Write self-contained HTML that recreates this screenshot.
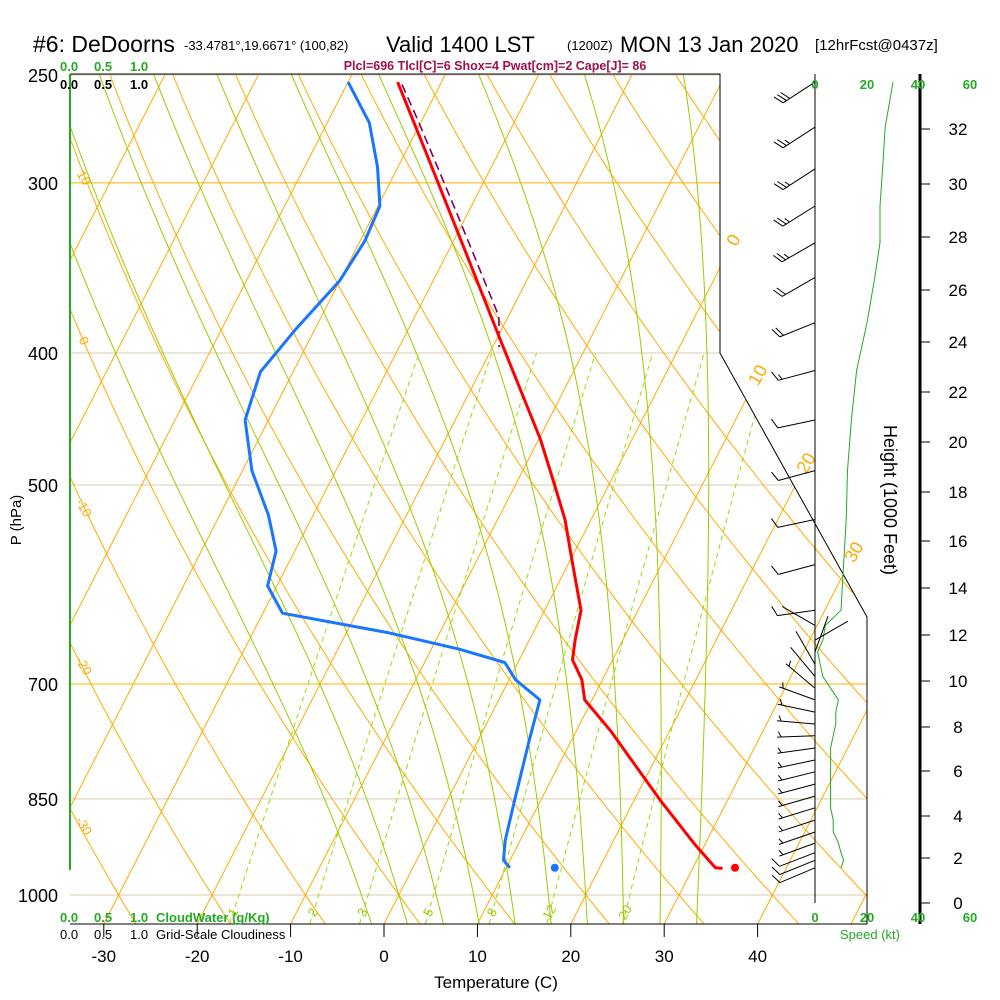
<!DOCTYPE html>
<html><head><meta charset="utf-8"><style>
html,body{margin:0;padding:0;background:#fff}
svg{display:block;font-family:"Liberation Sans",sans-serif}
</style></head><body>
<svg id="c" width="1000" height="1000" viewBox="0 0 1000 1000" xmlns="http://www.w3.org/2000/svg">
<defs><clipPath id="plotclip"><polygon points="70,74 720,74 720,353 867,617 867,924 70,924"/></clipPath></defs>
<g>
<text x="33" y="52" font-size="23">#6: DeDoorns</text>
<text x="184" y="50" font-size="13">-33.4781°,19.6671° (100,82)</text>
<text x="386" y="52" font-size="22">Valid 1400 LST</text>
<text x="567" y="50" font-size="13">(1200Z)</text>
<text x="620" y="52" font-size="22">MON 13 Jan 2020</text>
<text x="815" y="50" font-size="15">[12hrFcst@0437z]</text>
</g>
<text x="495" y="70" font-size="12.5" font-weight="bold" fill="#a0104a" text-anchor="middle">Plcl=696 Tlcl[C]=6 Shox=4 Pwat[cm]=2 Cape[J]= 86</text>
<g id="grid" clip-path="url(#plotclip)"></g>
<g id="series"></g>
<g id="axes"></g>
<g id="wind"></g>
</svg>
<script>
// ---- data ----
const tempP = [253,284,336,391,463,500,530,568,618,650,672,695,719,757,852,919,955,956];
const tempT = [-44.7,-38.0,-28.3,-19.6,-9.8,-5.8,-2.8,0.2,3.9,4.9,5.7,7.8,9.2,13.6,22.8,29.0,32.4,33.2];
const dewP = [253,271,292,312,331,354,385,413,448,488,526,559,593,621,642,660,675,695,719,771,852,912,943,955];
const dewT = [-50.0,-45.5,-42.2,-39.8,-39.5,-40.0,-42.1,-43.5,-42.5,-39.0,-34.8,-32.0,-31.0,-27.9,-15.4,-7.0,-1.4,0.7,4.4,5.5,7.2,8.4,9.3,10.4];
const parcelP = [254,270,314,376,396];
const parcelT = [-44.1,-40.4,-31.5,-21.0,-19.3];
const sfcT = 34.5, sfcTd = 15.2, sfcP = 955;
const windP = [253,273,293,312,332,352,380,412,448,488,530,572,618,634,650,663,677,691,705,719,734,749,764,780,796,812,829,846,863,881,899,916,931,943,955];
const windDir = [237,237,237,238,240,240,248,255,258,255,258,255,262,300,60,20,330,320,310,290,282,275,268,262,258,256,255,254,253,252,251,250,249,248,247];
const windSpd = [30,27,26,25,25,23,20,16,14,12.5,12,11,10,4,3,1,2,3,6,9,8,8,7,6,6,6,6,6,6,7,7,9,10,11,10];
const pressLabels = [250,300,400,500,700,850,1000];
const tempTicks = [-30,-20,-10,0,10,20,30,40];
const heightTicks = [0,2,4,6,8,10,12,14,16,18,20,22,24,26,28,30,32];
const heightY = [903,858,816,771,727,681,635,588,541,492,442,392,342,290,237,184,129];
const mixRatios = [1,2,3,5,8,12,20];
const moistTw = [-4,0,4,8,12,16,20,24,28,32];
const dryTheta = [-40,-30,-20,-10,0,10,20,30,40,50,60,70,80,90,100,110,120,130];
const isoT = [-80,-70,-60,-50,-40,-30,-20,-10,0,10,20,30,40,50];

// ---- axis functions ----
const yP = p => 75 + 820*Math.log(p/250)/Math.log(4);
const xT = (T,p) => 384 + 9.34*T + 0.512*(924 - yP(p));
const NS='http://www.w3.org/2000/svg';
function mk(tag, attrs, parent){const e=document.createElementNS(NS,tag);for(const k in attrs)e.setAttribute(k,attrs[k]);parent.appendChild(e);return e;}
const grid=document.getElementById('grid'), series=document.getElementById('series'), axes=document.getElementById('axes'), wind=document.getElementById('wind');
function pathFrom(ps,Ts){return ps.map((p,i)=>(i?'L':'M')+xT(Ts[i],p).toFixed(1)+','+yP(p).toFixed(1)).join(' ');}

// isobars
[250,300,400,500,700,850,1000].forEach(p=>{
  const l=mk('line',{x1:70,x2:867,y1:yP(p),y2:yP(p),stroke:(p==300||p==700)?'#ffb000':'#d8ccb0','stroke-width':1},grid);
  
  
});
// isotherms
isoT.forEach(T=>{
  const l=mk('line',{x1:xT(T,1050),y1:yP(1050),x2:xT(T,250),y2:yP(250),stroke:'#ffaa00','stroke-width':1},grid);
  
  
});
// dry adiabats
dryTheta.forEach(th=>{
  const ps=[],Ts=[];
  for(let p=1060;p>=245;p-=10){ps.push(p);Ts.push((th+273.15)*Math.pow(p/1000,0.2857)-273.15);}
  const e=mk('path',{d:pathFrom(ps,Ts),fill:'none',stroke:'#ffaa00','stroke-width':1},grid);
  
  
});
// moist adiabats
function dTdp(T,p){const es=6.112*Math.exp(17.67*(T-273.15)/(T-29.65));const rs=0.622*es/(p-es);const Rd=287.04,cp=1005.7,L=2.501e6;return (Rd*T+L*rs)/(p*(cp+L*L*rs*0.622/(Rd*T*T)));}
moistTw.forEach(tw=>{
  const down=[],up=[];let T=tw+273.15;
  for(let p=1000;p<=1060;p+=5){down.push([p,T-273.15]);T+=dTdp(T,p)*5;}
  T=tw+273.15;
  for(let p=1000;p>=245;p-=5){up.push([p,T-273.15]);T-=dTdp(T,p)*5;}
  const pts=down.reverse().concat(up.slice(1));
  const e=mk('path',{d:pathFrom(pts.map(a=>a[0]),pts.map(a=>a[1])),fill:'none',stroke:'#99cc00','stroke-width':1},grid);
  
  
});
// mixing ratio lines
mixRatios.forEach(w=>{
  const ps=[],Ts=[];
  for(let p=1050;p>=400;p-=10){const e=p*w/(622+w);const a=Math.log(e/6.112);ps.push(p);Ts.push(243.5*a/(17.67-a));}
  const e=mk('path',{d:pathFrom(ps,Ts),fill:'none',stroke:'#99dd00','stroke-width':1,'stroke-dasharray':'5,4'},grid);
  
  
  const e2=1030*w/(622+w),a2=Math.log(e2/6.112),t2=243.5*a2/(17.67-a2);
  const tx=mk('text',{x:xT(t2,1030),y:yP(1030)+4,'font-size':13,fill:'#99cc00','text-anchor':'middle',transform:`rotate(-60 ${xT(t2,1030)} ${yP(1030)})`},grid);
  tx.textContent=w;
  
  
});
// isotherm labels right
[[0,243],[10,378],[20,466],[30,555]].forEach(([t,y])=>{
  const x=384+9.34*t+0.512*(924-y)+6;
  const tx=mk('text',{x:x,y:y,'font-size':18,fill:'#ffaa00','text-anchor':'middle',transform:`rotate(-60 ${x} ${y})`},axes);
  tx.textContent=t;
  
  
});
// dry adiabat labels left
[[10,180],[0,343],[-10,510],[-20,668],[-30,828]].forEach(([t,y])=>{
  const tx=mk('text',{x:80,y:y,'font-size':13,fill:'#ffaa00','text-anchor':'middle',transform:`rotate(60 80 ${y})`},axes);
  tx.textContent=t;
  
  
});

// profiles
let e=mk('path',{d:pathFrom(parcelP,parcelT),fill:'none',stroke:'#800060','stroke-width':1.6,'stroke-dasharray':'9,5'},series);


e=mk('path',{d:pathFrom(tempP,tempT),fill:'none',stroke:'#ff0000','stroke-width':3,'stroke-linejoin':'round'},series);


e=mk('path',{d:pathFrom(dewP,dewT),fill:'none',stroke:'#1a75ff','stroke-width':3,'stroke-linejoin':'round'},series);


e=mk('circle',{cx:xT(sfcT,sfcP),cy:yP(sfcP),r:4,fill:'#ff0000'},series);


e=mk('circle',{cx:xT(sfcTd,sfcP),cy:yP(sfcP),r:4,fill:'#1a75ff'},series);



// frame & axes
e=mk('polyline',{points:'70,74 720,74 720,353 867,617 867,924 70,924',fill:'none',stroke:'#000','stroke-width':1},axes);


e=mk('line',{x1:70,y1:74,x2:70,y2:870,stroke:'#22aa22','stroke-width':2},axes);


pressLabels.forEach(p=>{
  const t=mk('text',{x:58,y:yP(p)+7,'font-size':18,'text-anchor':'end'},axes);
  t.textContent=p;
  
  
});
tempTicks.forEach(T=>{
  const x=384+9.34*T;
  const l=mk('line',{x1:x,x2:x,y1:924,y2:937,stroke:'#000'},axes);
  
  
  const t=mk('text',{x:x,y:962,'font-size':17,'text-anchor':'middle'},axes);
  t.textContent=T;
  
  
});
// height axis
e=mk('line',{x1:920,y1:74,x2:920,y2:924,stroke:'#000','stroke-width':3},axes);


heightTicks.forEach((h,i)=>{
  const l=mk('line',{x1:920,x2:930,y1:heightY[i],y2:heightY[i],stroke:'#000'},axes);
  
  
  const t=mk('text',{x:958,y:heightY[i]+6,'font-size':17,'text-anchor':'middle'},axes);
  t.textContent=h;
  
  
});

// wind panel
e=mk('line',{x1:815,y1:74,x2:815,y2:903,stroke:'#000'},wind);


e=mk('path',{d:windP.map((p,i)=>(i?'L':'M')+(815+2.6*windSpd[i]).toFixed(1)+','+yP(p).toFixed(1)).join(' '),fill:'none',stroke:'#22aa22','stroke-width':1},wind);


windP.forEach((p,i)=>{
  const d=windDir[i]*Math.PI/180, ux=Math.sin(d), uy=-Math.cos(d);
  const bx=815, by=yP(p), tx=bx+38*ux, ty=by+38*uy;
  let s='M'+bx+','+by.toFixed(1)+' L'+tx.toFixed(1)+','+ty.toFixed(1);
  let spd=windSpd[i], n10=Math.floor(spd/10), half=(spd-n10*10)>=5?1:0, k=0;
  const fx=-uy*0.9+ux*0.4, fy=ux*0.9+uy*0.4;
  for(let j=0;j<n10;j++,k++){const px=tx-ux*4*k,py=ty-uy*4*k;s+=` M${px.toFixed(1)},${py.toFixed(1)} l${(fx*11).toFixed(1)},${(fy*11).toFixed(1)}`;}
  if(half){if(k==0)k=1;const px=tx-ux*4*k,py=ty-uy*4*k;s+=` M${px.toFixed(1)},${py.toFixed(1)} l${(fx*6).toFixed(1)},${(fy*6).toFixed(1)}`;}
  const b=mk('path',{d:s,fill:'none',stroke:'#000','stroke-width':1},wind);
  
  
});
</script>
<div style="position:absolute;left:0;top:0;width:1000px;height:1000px;pointer-events:none;font-family:'Liberation Sans',sans-serif">
<svg width="1000" height="1000" style="position:absolute;left:0;top:0">
<g font-size="13" font-weight="bold">
<text x="60" y="71" fill="#22aa22">0.0</text><text x="94" y="71" fill="#22aa22">0.5</text><text x="130" y="71" fill="#22aa22">1.0</text>
<text x="60" y="89" fill="#000">0.0</text><text x="94" y="89" fill="#000">0.5</text><text x="130" y="89" fill="#000">1.0</text>
</g>
<g font-size="13">
<text x="60" y="922" fill="#22aa22" font-weight="bold">0.0</text><text x="94" y="922" fill="#22aa22" font-weight="bold">0.5</text><text x="130" y="922" fill="#22aa22" font-weight="bold">1.0</text>
<text x="156" y="922" fill="#22aa22" font-weight="bold">CloudWater (g/Kg)</text>
<text x="60" y="939" fill="#000">0.0</text><text x="94" y="939" fill="#000">0.5</text><text x="130" y="939" fill="#000">1.0</text>
<text x="156" y="939" fill="#000">Grid-Scale Cloudiness</text>
</g>
<text x="496" y="988" font-size="17" text-anchor="middle">Temperature (C)</text>
<text x="0" y="0" font-size="15" text-anchor="middle" transform="translate(21,520) rotate(-90)">P (hPa)</text>
<text x="0" y="0" font-size="18" text-anchor="middle" transform="translate(884,500) rotate(90)">Height (1000 Feet)</text>
<g font-size="13" font-weight="bold" fill="#22aa22" text-anchor="middle">
<text x="815" y="89">0</text><text x="867" y="89">20</text><text x="918" y="89">40</text><text x="970" y="89">60</text>
<text x="815" y="922">0</text><text x="867" y="922">20</text><text x="918" y="922">40</text><text x="970" y="922">60</text>
<text x="870" y="939" font-weight="normal">Speed (kt)</text>
</g>
</svg></div>
</body></html>
